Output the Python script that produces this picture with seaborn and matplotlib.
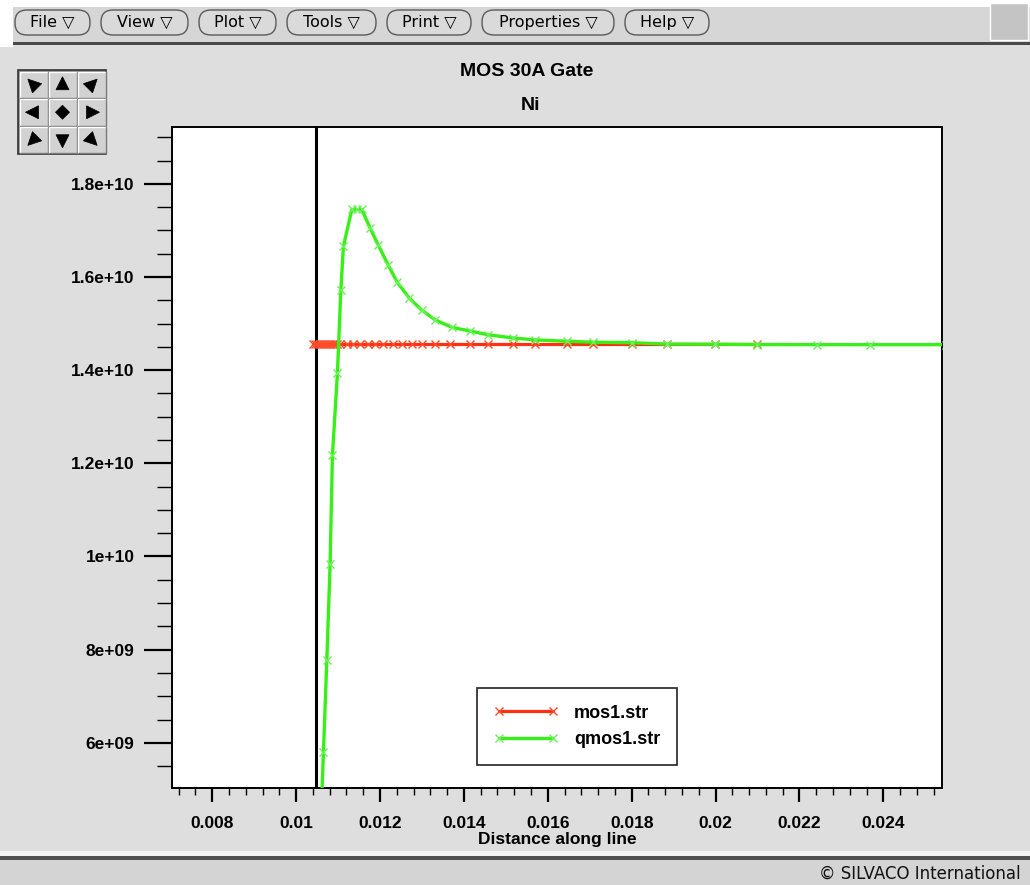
import numpy as np
import pandas as pd
import matplotlib
matplotlib.use("Agg")
import matplotlib.pyplot as plt
import seaborn as sns
from matplotlib.patches import Rectangle, FancyBboxPatch, Polygon
from matplotlib.ticker import FixedLocator
from matplotlib.lines import Line2D

# ---------------- data ----------------
title_main = "MOS 30A Gate"
title_sub = "Ni"
x_label = "Distance along line"
series_names = ["mos1.str", "qmos1.str"]

interface_x = 0.01048

mos1_x = [0.010405, 0.010453, 0.010501, 0.010548, 0.010596, 0.010644, 0.010691,
          0.010739, 0.010787, 0.010834, 0.010882, 0.010930, 0.010977, 0.011049,
          0.011216, 0.011359, 0.011526, 0.011716, 0.011883, 0.012074, 0.012312,
          0.012527, 0.012765, 0.013004, 0.013313, 0.013671, 0.014148, 0.014577,
          0.015173, 0.015697, 0.016460, 0.017080, 0.018010, 0.018844, 0.019988,
          0.020989]
mos1_y = [1.4552e10, 1.4552e10, 1.4552e10, 1.4552e10, 1.4552e10, 1.4552e10, 1.4552e10,
          1.4552e10, 1.4552e10, 1.4552e10, 1.4552e10, 1.4552e10, 1.4552e10, 1.4552e10,
          1.4552e10, 1.4552e10, 1.4552e10, 1.4552e10, 1.4552e10, 1.4552e10, 1.4552e10,
          1.4552e10, 1.4552e10, 1.4552e10, 1.4552e10, 1.4552e10, 1.4552e10, 1.4552e10,
          1.4552e10, 1.4552e10, 1.4552e10, 1.4552e10, 1.4552e10, 1.4552e10, 1.4552e10,
          1.4552e10]

qmos1_x = [0.010590, 0.010651, 0.010732, 0.010810, 0.010865, 0.010985, 0.011066,
           0.011128, 0.011328, 0.011447, 0.011566, 0.011764, 0.011955, 0.012193,
           0.012408, 0.012694, 0.012996, 0.013313, 0.013712, 0.014148, 0.014577,
           0.015173, 0.015697, 0.016453, 0.017080, 0.018003, 0.018837, 0.019988,
           0.020982, 0.022412, 0.023683, 0.025500]
qmos1_y = [4.30e9, 5.81e9, 7.78e9, 9.84e9, 1.217e10, 1.394e10, 1.572e10,
           1.666e10, 1.745e10, 1.745e10, 1.745e10, 1.705e10, 1.669e10, 1.626e10,
           1.589e10, 1.555e10, 1.529e10, 1.508e10, 1.492e10, 1.484e10, 1.476e10,
           1.469e10, 1.465e10, 1.462e10, 1.460e10, 1.459e10, 1.456e10, 1.4557e10,
           1.4550e10, 1.4548e10, 1.4547e10, 1.4547e10]

x_ticks = [0.008, 0.010, 0.012, 0.014, 0.016, 0.018, 0.020, 0.022, 0.024]
x_ticklabels = ["0.008", "0.01", "0.012", "0.014", "0.016", "0.018", "0.02", "0.022", "0.024"]
x_minor_ticks = [0.0072, 0.0076, 0.0084, 0.0088, 0.0092, 0.0096, 0.0104, 0.0108,
                 0.0112, 0.0116, 0.0124, 0.0128, 0.0132, 0.0136, 0.0144, 0.0148,
                 0.0152, 0.0156, 0.0164, 0.0168, 0.0172, 0.0176, 0.0184, 0.0188,
                 0.0192, 0.0196, 0.0204, 0.0208, 0.0212, 0.0216, 0.0224, 0.0228,
                 0.0232, 0.0236, 0.0244, 0.0248, 0.0252]
y_ticks = [6e9, 8e9, 1e10, 1.2e10, 1.4e10, 1.6e10, 1.8e10]
y_ticklabels = ["6e+09", "8e+09", "1e+10", "1.2e+10", "1.4e+10", "1.6e+10", "1.8e+10"]
y_minor_ticks = [5.5e9, 6.5e9, 7e9, 7.5e9, 8.5e9, 9e9, 9.5e9, 1.05e10, 1.1e10, 1.15e10,
                 1.25e10, 1.3e10, 1.35e10, 1.45e10, 1.5e10, 1.55e10, 1.65e10, 1.7e10,
                 1.75e10, 1.85e10, 1.9e10]

menu_items = ["File", "View", "Plot", "Tools", "Print", "Properties", "Help"]

# ---------------- styling ----------------
sns.set_style("white")
plt.rcParams["font.family"] = ["Liberation Sans", "DejaVu Sans"]
plt.rcParams["text.color"] = "black"
plt.rcParams["axes.labelcolor"] = "black"

W, H = 1030, 885
PANEL = "#dedede"
RED, RED_M = "#ff3010", "#ff4a2a"
GREEN, GREEN_M = "#38f018", "#6cf05a"

fig = plt.figure(figsize=(W / 100, H / 100), dpi=100)
fig.patch.set_facecolor(PANEL)

# background / window-chrome axes in pixel coordinates (y down)
bg = fig.add_axes([0, 0, 1, 1], zorder=0)
bg.set_xlim(0, W)
bg.set_ylim(H, 0)
bg.axis("off")


def rect(x0, y0, x1, y1, fc, ec="none", lw=0, z=1):
    bg.add_patch(Rectangle((x0, y0), x1 - x0, y1 - y0, facecolor=fc,
                           edgecolor=ec, linewidth=lw, zorder=z))


# menu bar
rect(0, 0, W, 7, "white")
rect(0, 0, 13, 47, "white")
rect(13, 7, W, 42, "#d6d6d6")
rect(13, 42, W, 45, "#4a4a4a")
rect(990, 3, 1028, 40, "#c4c4c4", ec="white", lw=1.0)

menu_pos = [(15, 90), (101, 188), (199, 276), (287, 376), (387, 471), (482, 614), (625, 709)]
for name, (x0, x1) in zip(menu_items, menu_pos):
    bg.add_patch(FancyBboxPatch((x0, 10), x1 - x0, 25,
                                boxstyle="round,pad=0,rounding_size=12",
                                facecolor="#dadada", edgecolor="#5a5a5a", linewidth=1.0, zorder=2))
    bg.text((x0 + x1) / 2, 22, name + " \u25bd", ha="center", va="center",
            fontsize=11.5, family="DejaVu Sans", color="black", zorder=3)

# navigation widget
rect(18, 70, 106, 154, "#8a8a8a", ec="#333333", lw=1.2, z=2)
angles = [[135, 90, 45], [180, None, 0], [-135, -90, -45]]
for i in range(3):
    for j in range(3):
        bx, by = 19.5 + j * 29, 71.5 + i * 27.5
        rect(bx, by, bx + 28, by + 26.5, "#d2d2d2", ec="none", z=3)
        bg.plot([bx, bx, bx + 28], [by + 26.5, by, by], color="white", lw=1.0, zorder=4)
        bg.plot([bx, bx + 28, bx + 28], [by + 26.5, by + 26.5, by], color="#7a7a7a", lw=1.0, zorder=4)
        cx, cy = bx + 14, by + 13.25
        a = angles[i][j]
        if a is None:
            pts = [(cx, cy - 7), (cx + 7, cy), (cx, cy + 7), (cx - 7, cy)]
        else:
            t = np.deg2rad(a)
            ux, uy = np.cos(t), -np.sin(t)
            vx, vy = -uy, ux
            pts = [(cx + 8 * ux, cy + 8 * uy),
                   (cx - 5 * ux + 6.5 * vx, cy - 5 * uy + 6.5 * vy),
                   (cx - 5 * ux - 6.5 * vx, cy - 5 * uy - 6.5 * vy)]
        bg.add_patch(Polygon(pts, closed=True, facecolor="black", edgecolor="black",
                             linewidth=0.5, zorder=5))

# titles
bg.text(527, 72, title_main, ha="center", va="center", fontsize=14, fontweight="bold",
        color="black")
bg.text(530, 106, title_sub, ha="center", va="center", fontsize=14, fontweight="bold",
        color="black")

# status bar
rect(0, 851, W, 856, "#f4f4f4")
rect(0, 856, W, 860, "#505050")
rect(0, 860, W, H, "#d4d4d4")
bg.text(819, 874, "\u00a9 SILVACO International", ha="left", va="center",
        fontsize=12, family="DejaVu Sans", color="#111111")

# ---------------- main plot ----------------
ax = fig.add_axes([172 / W, 1 - 788 / H, (942 - 172) / W, (788 - 127) / H], zorder=2)
ax.set_facecolor("white")

df_mos1 = pd.DataFrame({"x": mos1_x, "y": mos1_y})
df_qmos1 = pd.DataFrame({"x": qmos1_x, "y": qmos1_y})

ax.axvline(interface_x, color="black", lw=2.2, zorder=2)
sns.lineplot(data=df_mos1, x="x", y="y", ax=ax, sort=False, estimator=None,
             color=RED, lw=2.3, marker="x", markersize=6, markeredgewidth=1.0,
             markeredgecolor=RED_M, zorder=3)
sns.lineplot(data=df_qmos1, x="x", y="y", ax=ax, sort=False, estimator=None,
             color=GREEN, lw=2.4, marker="x", markersize=6, markeredgewidth=1.0,
             markeredgecolor=GREEN_M, zorder=4)

ax.set_xlim(0.00704, 0.0254)
ax.set_ylim(5.03e9, 1.922e10)

ax.xaxis.set_major_locator(FixedLocator(x_ticks))
ax.set_xticklabels(x_ticklabels)
ax.xaxis.set_minor_locator(FixedLocator(x_minor_ticks))
ax.yaxis.set_major_locator(FixedLocator(y_ticks))
ax.set_yticklabels(y_ticklabels)
ax.yaxis.set_minor_locator(FixedLocator(y_minor_ticks))

ax.tick_params(axis="x", which="major", direction="out", length=10, width=1.6,
               pad=10, labelsize=12.5, colors="black", bottom=True)
ax.tick_params(axis="x", which="minor", direction="out", length=5, width=1.0,
               bottom=True, colors="black")
ax.tick_params(axis="y", which="major", direction="out", length=20, width=1.6,
               pad=7, labelsize=12.5, colors="black", left=True)
ax.tick_params(axis="y", which="minor", direction="out", length=11, width=1.0,
               left=True, colors="black")
for lab in ax.get_xticklabels() + ax.get_yticklabels():
    lab.set_fontweight("bold")

ax.set_xlabel(x_label, fontsize=12.5, fontweight="bold", labelpad=1, color="black")
ax.set_ylabel("")
for s in ax.spines.values():
    s.set_color("black")
    s.set_linewidth(1.4)
ax.grid(False)

handles = [
    Line2D([], [], color=RED, lw=2.3, marker="x", markersize=6, markeredgewidth=1.0,
           markeredgecolor=RED_M),
    Line2D([], [], color=GREEN, lw=2.4, marker="x", markersize=6, markeredgewidth=1.0,
           markeredgecolor=GREEN_M),
]
leg = ax.legend(handles, series_names, loc="center", bbox_to_anchor=(0.526, 0.093),
                frameon=True, fancybox=False, framealpha=1, edgecolor="#222222",
                prop={"family": "Liberation Sans", "weight": "bold", "size": 13},
                handlelength=3.6, handletextpad=0.85, borderpad=0.9, labelspacing=0.55,
                numpoints=2, borderaxespad=0)
leg.get_frame().set_linewidth(1.2)
for t in leg.get_texts():
    t.set_color("black")

fig.savefig("out.png", dpi=100, facecolor=fig.get_facecolor())
